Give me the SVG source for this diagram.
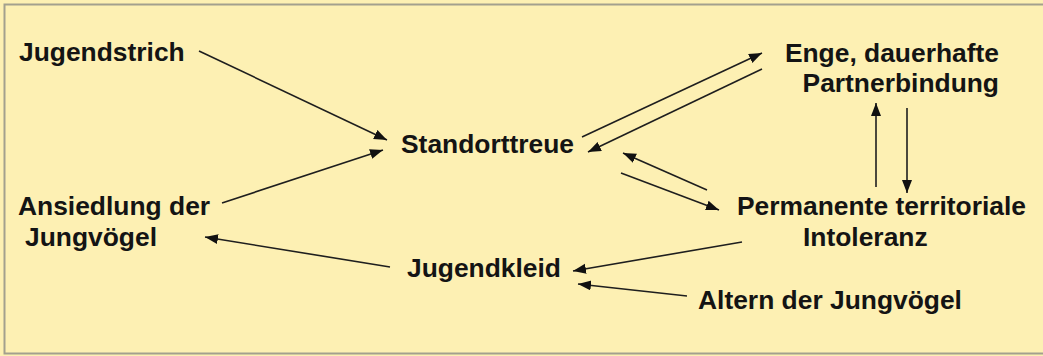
<svg xmlns="http://www.w3.org/2000/svg" width="1043" height="356" viewBox="0 0 1043 356">
<style>
.t{font-family:"Liberation Sans",Arial,sans-serif;font-weight:bold;font-size:26.4px;fill:#141414}
.c{stroke:#1e1e1e;stroke-width:1.6;fill:none;marker-end:url(#ah)}
</style>
<defs>
<marker id="ah" markerUnits="userSpaceOnUse" markerWidth="14" markerHeight="11" refX="13" refY="5" orient="auto">
<path d="M0,0 L13,5 L0,10 z" fill="#111"/>
</marker>
</defs>
<rect x="0" y="0" width="1043" height="356" fill="#fdf0b3"/>
<rect x="4.5" y="4.5" width="1045" height="349" fill="#fdf0b3" stroke="#a3a08e" stroke-width="2"/>
<g id="connectors">
<line class="c" x1="199" y1="51" x2="387" y2="140"/>
<line class="c" x1="222" y1="203" x2="383" y2="150"/>
<line class="c" x1="582" y1="137" x2="762" y2="53"/>
<line class="c" x1="762" y1="69" x2="588" y2="152"/>
<line class="c" x1="707" y1="190" x2="623" y2="153"/>
<line class="c" x1="621" y1="173" x2="719" y2="210"/>
<line class="c" x1="876" y1="187" x2="876" y2="103"/>
<line class="c" x1="907" y1="108" x2="907" y2="193"/>
<line class="c" x1="742" y1="242" x2="573" y2="271"/>
<line class="c" x1="687" y1="296" x2="578" y2="284"/>
<line class="c" x1="390" y1="267" x2="205" y2="237"/>
</g>
<g id="jugendstrich"><text class="t" x="19" y="61">Jugendstrich</text></g>
<g id="standorttreue"><text class="t" x="401" y="153">Standorttreue</text></g>
<g id="partnerbindung"><text class="t" x="999" y="62" text-anchor="end">Enge, dauerhafte</text><text class="t" x="999" y="92" text-anchor="end">Partnerbindung</text></g>
<g id="ansiedlung"><text class="t" x="18" y="215">Ansiedlung der</text><text class="t" x="25" y="246">Jungvögel</text></g>
<g id="intoleranz"><text class="t" x="737" y="215">Permanente territoriale</text><text class="t" x="803" y="246">Intoleranz</text></g>
<g id="jugendkleid"><text class="t" x="407" y="277">Jugendkleid</text></g>
<g id="altern"><text class="t" x="698" y="309">Altern der Jungvögel</text></g>
</svg>
